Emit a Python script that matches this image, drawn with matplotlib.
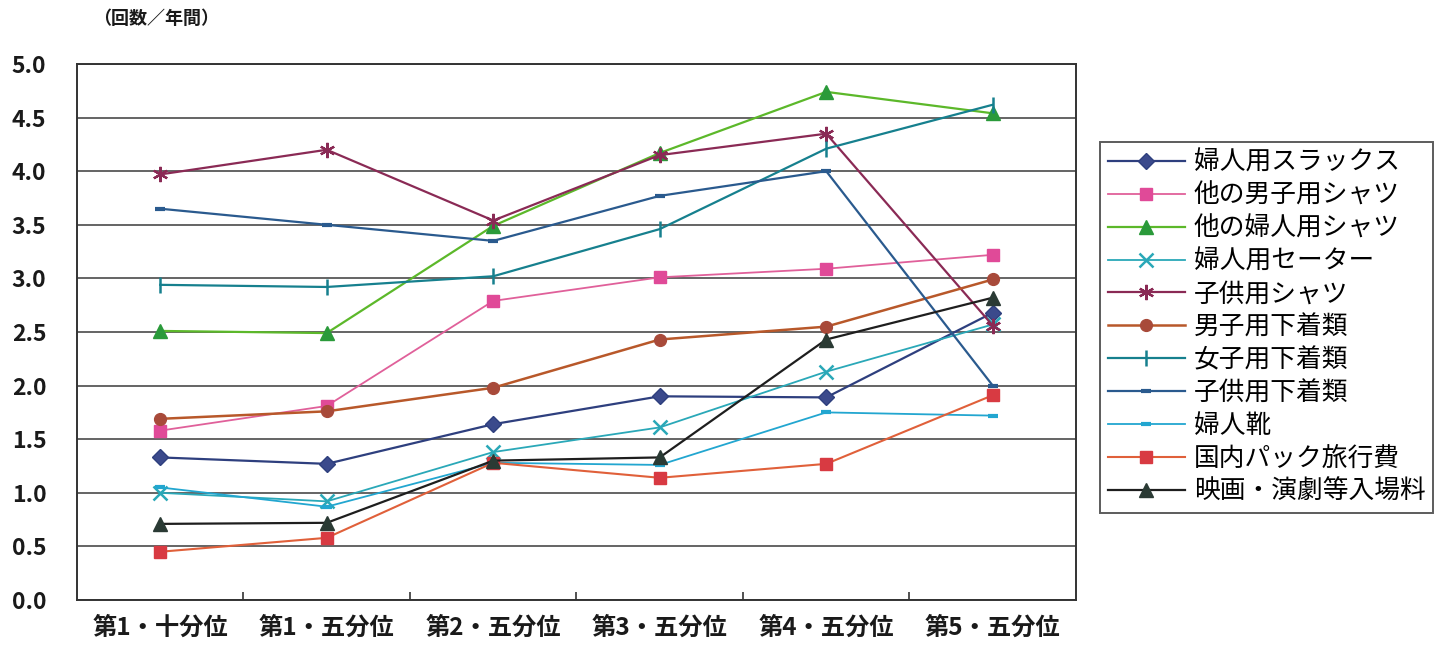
import matplotlib
matplotlib.use("Agg")
import matplotlib.pyplot as plt
from matplotlib.ticker import MultipleLocator, FixedLocator

plt.rcParams['font.family'] = ['Noto Sans CJK JP', 'DejaVu Sans']

categories = ["第1・十分位", "第1・五分位", "第2・五分位", "第3・五分位", "第4・五分位", "第5・五分位"]

womens_slacks = [1.33, 1.27, 1.64, 1.90, 1.89, 2.68]
other_mens_shirts = [1.58, 1.81, 2.79, 3.01, 3.09, 3.22]
other_womens_shirts = [2.51, 2.49, 3.49, 4.17, 4.74, 4.54]
womens_sweaters = [1.00, 0.92, 1.38, 1.61, 2.13, 2.57]
childrens_shirts = [3.97, 4.20, 3.54, 4.15, 4.35, 2.56]
mens_underwear = [1.69, 1.76, 1.98, 2.43, 2.55, 2.99]
girls_underwear = [2.94, 2.92, 3.02, 3.46, 4.21, 4.62]
childrens_underwear = [3.65, 3.50, 3.35, 3.77, 4.00, 2.00]
womens_shoes = [1.05, 0.87, 1.28, 1.26, 1.75, 1.72]
domestic_package_tours = [0.45, 0.58, 1.28, 1.14, 1.27, 1.91]
movie_theater_admission = [0.71, 0.72, 1.30, 1.33, 2.43, 2.82]

series_names = ["婦人用スラックス", "他の男子用シャツ", "他の婦人用シャツ", "婦人用セーター", "子供用シャツ",
                "男子用下着類", "女子用下着類", "子供用下着類", "婦人靴", "国内パック旅行費", "映画・演劇等入場料"]

series = [womens_slacks, other_mens_shirts, other_womens_shirts, womens_sweaters, childrens_shirts,
          mens_underwear, girls_underwear, childrens_underwear, womens_shoes, domestic_package_tours,
          movie_theater_admission]

styles = [
    dict(color="#2e3f7e", marker="D", ms=8, mfc="#3b4a8c", mec="#2e3f7e", lw=1.6),
    dict(color="#e0609a", marker="s", ms=8, mfc="#e04a98", mec="#e04a98", lw=1.3),
    dict(color="#5cb82a", marker="^", ms=10, mfc="#2a9a3a", mec="#2a9a3a", lw=1.6),
    dict(color="#2aa8b8", marker="x", ms=10, mfc="#2aa8b8", mec="#2aa8b8", lw=1.3, mew=1.8),
    dict(color="#8a2a55", marker=(6, 2, 0), ms=11, mfc="#8a2a55", mec="#8a2a55", lw=1.6, mew=1.6),
    dict(color="#b8582a", marker="o", ms=8.5, mfc="#a84a3a", mec="#a84a3a", lw=1.8),
    dict(color="#16808e", marker="|", ms=12, mfc="#16808e", mec="#16808e", lw=1.6, mew=1.8),
    dict(color="#2a5a8e", marker="_", ms=7, mfc="#2a5a8e", mec="#2a5a8e", lw=1.6, mew=3),
    dict(color="#22a6d0", marker="_", ms=7, mfc="#22a6d0", mec="#22a6d0", lw=1.3, mew=3),
    dict(color="#e0603a", marker="s", ms=8, mfc="#d83a42", mec="#d83a42", lw=1.5),
    dict(color="#1e1e1e", marker="^", ms=10, mfc="#2a3a34", mec="#2a3a34", lw=1.6),
]

fig = plt.figure(figsize=(14.39, 6.46), dpi=100)
ax = fig.add_axes([77/1439, 1 - 600/646, (1076 - 77)/1439, (600 - 64)/646])

x = list(range(len(categories)))
handles = []
for name, vals, st in zip(series_names, series, styles):
    h, = ax.plot(x, vals, label=name, **st)
    handles.append(h)

ax.set_xlim(-0.5, len(categories) - 0.5)
ax.set_ylim(0, 5.0)
ax.yaxis.set_major_locator(MultipleLocator(0.5))
ax.yaxis.set_major_formatter(matplotlib.ticker.FormatStrFormatter('%.1f'))
ax.grid(axis='y', color="#4a4a4a", lw=1.2)
ax.set_axisbelow(True)
for s in ax.spines.values():
    s.set_color("#333333")
    s.set_linewidth(1.4)

ax.set_xticks(x)
ax.set_xticklabels(categories, fontsize=17.5, color="#1a1a1a", fontweight='bold')
ax.xaxis.set_minor_locator(FixedLocator([i + 0.5 for i in range(len(categories) - 1)]))
ax.tick_params(axis='x', which='major', length=0, pad=11)
ax.tick_params(axis='x', which='minor', length=6, direction='in', color="#333333", width=1.2)
ax.tick_params(axis='y', length=0, pad=22, labelcolor="#1a1a1a")
for lbl in ax.get_yticklabels():
    lbl.set_fontsize(16.5)
    lbl.set_fontweight('bold')

fig.text(93/1439, 1 - 18/646, "（回数／年間）", fontsize=13, ha='left', va='center',
         color="#1a1a1a", fontweight='bold')

leg = fig.legend(handles=handles, loc='upper left', bbox_to_anchor=(1100/1439, 1 - 142/646),
                 prop={'size': 18.5}, frameon=True, fancybox=False, handlelength=3.0, handletextpad=0.35,
                 labelspacing=0.27, borderpad=0.3, borderaxespad=0)
leg.get_frame().set_edgecolor("#333333")
leg.get_frame().set_linewidth(1.4)

fig.savefig("out.png", dpi=100)
